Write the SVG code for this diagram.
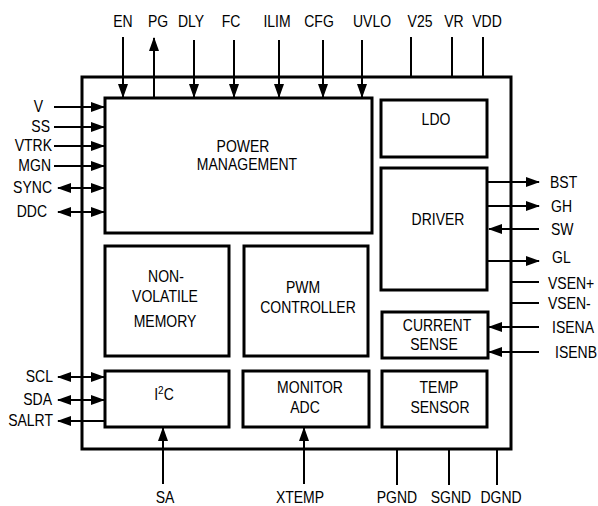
<svg xmlns="http://www.w3.org/2000/svg" width="598" height="506" viewBox="0 0 598 506">
<style>
.box{fill:#fff;stroke:#000;stroke-width:3}
.pin{stroke:#000;stroke-width:2;fill:none}
.t{font-family:"Liberation Sans",Arial,sans-serif;font-size:14px;fill:#000}
.m{text-anchor:middle}
.e{text-anchor:end}
</style>
<defs>
<marker id="ah" viewBox="0 0 14 10" refX="13" refY="5" markerWidth="14" markerHeight="10" markerUnits="userSpaceOnUse" orient="auto-start-reverse">
<path d="M0,0 L14,5 L0,10 z" fill="#000"/>
</marker>
</defs>
<rect width="598" height="506" fill="#fff"/>
<g id="chip"><rect class="box" x="82" y="77" width="429" height="372"/></g>
<g id="connectors">
<line class="pin" x1="123" y1="37" x2="123" y2="97" marker-end="url(#ah)"/>
<line class="pin" x1="154" y1="98" x2="154" y2="38" marker-end="url(#ah)"/>
<line class="pin" x1="194" y1="40" x2="194" y2="97" marker-end="url(#ah)"/>
<line class="pin" x1="234" y1="40" x2="234" y2="97" marker-end="url(#ah)"/>
<line class="pin" x1="279" y1="40" x2="279" y2="97" marker-end="url(#ah)"/>
<line class="pin" x1="323" y1="40" x2="323" y2="97" marker-end="url(#ah)"/>
<line class="pin" x1="362" y1="40" x2="362" y2="97" marker-end="url(#ah)"/>
<line class="pin" x1="411" y1="37" x2="411" y2="77"/>
<line class="pin" x1="452" y1="37" x2="452" y2="77"/>
<line class="pin" x1="483" y1="37" x2="483" y2="77"/>
<line class="pin" x1="54" y1="107" x2="104" y2="107" marker-end="url(#ah)"/>
<line class="pin" x1="54" y1="127" x2="104" y2="127" marker-end="url(#ah)"/>
<line class="pin" x1="54" y1="146" x2="104" y2="146" marker-end="url(#ah)"/>
<line class="pin" x1="54" y1="166" x2="104" y2="166" marker-end="url(#ah)"/>
<line class="pin" x1="58" y1="188" x2="104" y2="188" marker-start="url(#ah)" marker-end="url(#ah)"/>
<line class="pin" x1="58" y1="212" x2="104" y2="212" marker-start="url(#ah)" marker-end="url(#ah)"/>
<line class="pin" x1="58" y1="377" x2="104" y2="377" marker-start="url(#ah)" marker-end="url(#ah)"/>
<line class="pin" x1="58" y1="400" x2="104" y2="400" marker-start="url(#ah)" marker-end="url(#ah)"/>
<line class="pin" x1="105" y1="421" x2="58" y2="421" marker-end="url(#ah)"/>
<line class="pin" x1="163" y1="484" x2="163" y2="428" marker-end="url(#ah)"/>
<line class="pin" x1="304" y1="484" x2="304" y2="428" marker-end="url(#ah)"/>
<line class="pin" x1="397" y1="449" x2="397" y2="485"/>
<line class="pin" x1="449" y1="449" x2="449" y2="485"/>
<line class="pin" x1="497" y1="449" x2="497" y2="485"/>
<line class="pin" x1="487" y1="182" x2="539" y2="182" marker-end="url(#ah)"/>
<line class="pin" x1="487" y1="206" x2="539" y2="206" marker-end="url(#ah)"/>
<line class="pin" x1="539" y1="229" x2="489" y2="229" marker-end="url(#ah)"/>
<line class="pin" x1="487" y1="261" x2="539" y2="261" marker-end="url(#ah)"/>
<line class="pin" x1="511" y1="282" x2="539" y2="282"/>
<line class="pin" x1="511" y1="303" x2="539" y2="303"/>
<line class="pin" x1="539" y1="327" x2="489" y2="327" marker-end="url(#ah)"/>
<line class="pin" x1="539" y1="352" x2="489" y2="352" marker-end="url(#ah)"/>
</g>
<g id="power-management"><rect class="box" x="105" y="98" width="267" height="135"/>
<text class="t m" transform="translate(243,152) scale(1,1.15)">POWER</text>
<text class="t m" transform="translate(247,170) scale(1,1.15)">MANAGEMENT</text></g>
<g id="ldo"><rect class="box" x="381" y="100" width="106" height="57"/>
<text class="t m" transform="translate(436,125) scale(1,1.15)">LDO</text></g>
<g id="driver"><rect class="box" x="381" y="168" width="106" height="122"/>
<text class="t m" transform="translate(438,225) scale(1,1.15)">DRIVER</text></g>
<g id="nv-memory"><rect class="box" x="105" y="246" width="124" height="110"/>
<text class="t m" transform="translate(166,282) scale(1,1.15)">NON-</text>
<text class="t m" transform="translate(165,302) scale(1,1.15)">VOLATILE</text>
<text class="t m" transform="translate(165,327) scale(1,1.15)">MEMORY</text></g>
<g id="pwm-controller"><rect class="box" x="244" y="246" width="124" height="110"/>
<text class="t m" transform="translate(303,293) scale(1,1.15)">PWM</text>
<text class="t m" transform="translate(308,313) scale(1,1.15)">CONTROLLER</text></g>
<g id="current-sense"><rect class="box" x="382" y="312" width="106" height="46"/>
<text class="t m" transform="translate(437,331) scale(1,1.15)">CURRENT</text>
<text class="t m" transform="translate(434,350) scale(1,1.15)">SENSE</text></g>
<g id="i2c"><rect class="box" x="105" y="371" width="124" height="56"/>
<text class="t m" transform="translate(164,400) scale(1,1.15)">I<tspan font-size="10" dy="-5">2</tspan><tspan dy="5">C</tspan></text></g>
<g id="monitor-adc"><rect class="box" x="243" y="371" width="126" height="56"/>
<text class="t m" transform="translate(310,393) scale(1,1.15)">MONITOR</text>
<text class="t m" transform="translate(305,413) scale(1,1.15)">ADC</text></g>
<g id="temp-sensor"><rect class="box" x="382" y="371" width="105" height="56"/>
<text class="t m" transform="translate(439,393) scale(1,1.15)">TEMP</text>
<text class="t m" transform="translate(440,413) scale(1,1.15)">SENSOR</text></g>
<g id="pin-labels">
<text class="t m" transform="translate(123,27) scale(1,1.15)">EN</text>
<text class="t m" transform="translate(158,27) scale(1,1.15)">PG</text>
<text class="t m" transform="translate(191,27) scale(1,1.15)">DLY</text>
<text class="t m" transform="translate(231,27) scale(1,1.15)">FC</text>
<text class="t m" transform="translate(277,27) scale(1,1.15)">ILIM</text>
<text class="t m" transform="translate(319,27) scale(1,1.15)">CFG</text>
<text class="t m" transform="translate(372,27) scale(1,1.15)">UVLO</text>
<text class="t m" transform="translate(420,27) scale(1,1.15)">V25</text>
<text class="t m" transform="translate(454,27) scale(1,1.15)">VR</text>
<text class="t m" transform="translate(487,27) scale(1,1.15)">VDD</text>
<text class="t e" transform="translate(43,112) scale(1,1.15)">V</text>
<text class="t e" transform="translate(50,132) scale(1,1.15)">SS</text>
<text class="t e" transform="translate(52,151) scale(1,1.15)">VTRK</text>
<text class="t e" transform="translate(51,171) scale(1,1.15)">MGN</text>
<text class="t e" transform="translate(52,193) scale(1,1.15)">SYNC</text>
<text class="t e" transform="translate(47,217) scale(1,1.15)">DDC</text>
<text class="t e" transform="translate(53,382) scale(1,1.15)">SCL</text>
<text class="t e" transform="translate(52,405) scale(1,1.15)">SDA</text>
<text class="t e" transform="translate(53,426) scale(1,1.15)">SALRT</text>
<text class="t m" transform="translate(165,503) scale(1,1.15)">SA</text>
<text class="t m" transform="translate(300,503) scale(1,1.15)">XTEMP</text>
<text class="t m" transform="translate(397,503) scale(1,1.15)">PGND</text>
<text class="t m" transform="translate(451,503) scale(1,1.15)">SGND</text>
<text class="t m" transform="translate(501,503) scale(1,1.15)">DGND</text>
<text class="t" transform="translate(550,188) scale(1,1.15)">BST</text>
<text class="t" transform="translate(551,212) scale(1,1.15)">GH</text>
<text class="t" transform="translate(551,235) scale(1,1.15)">SW</text>
<text class="t" transform="translate(552,263) scale(1,1.15)">GL</text>
<text class="t" transform="translate(548,289) scale(1,1.15)">VSEN+</text>
<text class="t" transform="translate(548,309) scale(1,1.15)">VSEN-</text>
<text class="t" transform="translate(552,333) scale(1,1.15)">ISENA</text>
<text class="t" transform="translate(555,358) scale(1,1.15)">ISENB</text>
</g>
</svg>
